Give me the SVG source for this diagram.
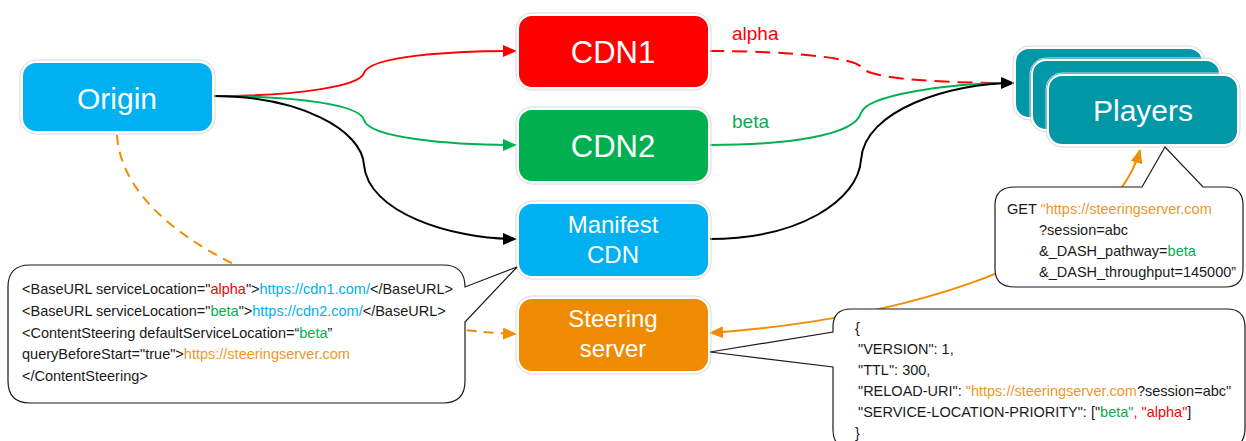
<svg xmlns="http://www.w3.org/2000/svg" width="1246" height="441" viewBox="0 0 1246 441">
<style>
.nodebox{stroke:#ffffff;stroke-width:2}
.halo{fill:none;stroke:#d8d8d8;stroke-width:1}
.nt{font-family:"Liberation Sans",Arial,sans-serif;fill:#ffffff;text-anchor:middle}
.ct{font-family:"Liberation Sans",Arial,sans-serif;font-size:14.5px;fill:#1a1a1a}
.callout{fill:#ffffff;stroke:#1a1a1a;stroke-width:1.2}
.lbl{font-family:"Liberation Sans",Arial,sans-serif;font-size:19px}
.conn{fill:none;stroke-width:2}
.r{fill:#ff0000}.g{fill:#00b050}.b{fill:#00b0f0}.o{fill:#f0962a}
</style>
<defs>
<marker id="arrK" markerUnits="userSpaceOnUse" markerWidth="14" markerHeight="12" refX="13" refY="6" orient="auto"><path d="M0,0 L14,6 L0,12 z" fill="#000000"/></marker>
<marker id="arrR" markerUnits="userSpaceOnUse" markerWidth="14" markerHeight="12" refX="13" refY="6" orient="auto"><path d="M0,0 L14,6 L0,12 z" fill="#ff0000"/></marker>
<marker id="arrG" markerUnits="userSpaceOnUse" markerWidth="14" markerHeight="12" refX="13" refY="6" orient="auto"><path d="M0,0 L14,6 L0,12 z" fill="#00b050"/></marker>
<marker id="arrO" markerUnits="userSpaceOnUse" markerWidth="14" markerHeight="12" refX="13" refY="6" orient="auto"><path d="M0,0 L14,6 L0,12 z" fill="#f08c00"/></marker>
<marker id="arrOs" markerUnits="userSpaceOnUse" markerWidth="14" markerHeight="12" refX="1" refY="6" orient="auto"><path d="M14,0 L0,6 L14,12 z" fill="#f08c00"/></marker>
</defs>

<g id="connectors">
<path class="conn" stroke="#f08c00" stroke-dasharray="10,7" d="M117,135 C125,260 380,330 516,334" marker-end="url(#arrO)"/>
<path class="conn" stroke="#f08c00" d="M710,333 C900,320 1110,260 1140,150" marker-start="url(#arrOs)" marker-end="url(#arrO)"/>
<path class="conn" stroke="#ff0000" d="M212,96 C300,96 360,86 364,73 C370,56 450,51 516,51" marker-end="url(#arrR)"/>
<path class="conn" stroke="#00b050" d="M212,96 C300,96 360,105 364,120 C369,138 450,145 516,145" marker-end="url(#arrG)"/>
<path class="conn" stroke="#000000" d="M212,96 C300,96 362,130 364,165 C368,212 450,239 516,239" marker-end="url(#arrK)"/>
<path class="conn" stroke="#ff0000" stroke-dasharray="15,8" d="M709,51 C790,51 855,58 861,67 C870,80 950,83 1012,83"/>
<path class="conn" stroke="#00b050" d="M709,145 C790,145 855,135 861,113 C866,95 950,83 1012,83"/>
<path class="conn" stroke="#000000" d="M709,239 C800,239 858,200 861,160 C864,110 950,83 1014,83" marker-end="url(#arrK)"/>
<text class="lbl r" x="732" y="40">alpha</text>
<text class="lbl g" x="732" y="128">beta</text>
</g>

<g id="origin">
<rect class="halo" x="20" y="60" width="195" height="74" rx="16"/>
<rect class="nodebox" x="22" y="62" width="191" height="70" rx="14" fill="#00b0f0"/>
<text class="nt" x="117" y="109" font-size="30">Origin</text>
</g>

<g id="cdn1">
<rect class="halo" x="516" y="13" width="195" height="77" rx="16"/>
<rect class="nodebox" x="518" y="15" width="191" height="73" rx="14" fill="#ff0000"/>
<text class="nt" x="613" y="63" font-size="31">CDN1</text>
</g>

<g id="cdn2">
<rect class="halo" x="516" y="107" width="195" height="77" rx="16"/>
<rect class="nodebox" x="518" y="109" width="191" height="73" rx="14" fill="#00b050"/>
<text class="nt" x="613" y="157" font-size="31">CDN2</text>
</g>

<g id="manifest-cdn">
<rect class="halo" x="516" y="201" width="195" height="78" rx="16"/>
<rect class="nodebox" x="518" y="203" width="191" height="74" rx="14" fill="#00b0f0"/>
<text class="nt" x="613" y="233" font-size="24">Manifest</text>
<text class="nt" x="613" y="263" font-size="24">CDN</text>
</g>

<g id="steering-server">
<rect class="halo" x="516" y="296" width="195" height="78" rx="16"/>
<rect class="nodebox" x="518" y="298" width="191" height="74" rx="14" fill="#ef8b00"/>
<text class="nt" x="613" y="327" font-size="24">Steering</text>
<text class="nt" x="613" y="357" font-size="24">server</text>
</g>

<g id="players">
<rect class="halo" x="1013" y="46" width="192" height="74" rx="16"/>
<rect class="nodebox" x="1015" y="48" width="188" height="70" rx="14" fill="#0097a7"/>
<rect class="halo" x="1030" y="58" width="192" height="74" rx="16"/>
<rect class="nodebox" x="1032" y="60" width="188" height="70" rx="14" fill="#0097a7"/>
<rect class="halo" x="1046" y="73" width="194" height="74" rx="16"/>
<rect class="nodebox" x="1048" y="75" width="190" height="70" rx="14" fill="#0097a7"/>
<text class="nt" x="1143" y="121" font-size="30">Players</text>
</g>

<g id="callout-mpd">
<path class="callout" d="M30,265 H443 Q465,265 465,287 L517,267 L465,322 V381 Q465,403 443,403 H30 Q8,403 8,381 V287 Q8,265 30,265 Z"/>
<text class="ct" x="22" y="294">&lt;BaseURL serviceLocation="<tspan class="r">alpha</tspan>"&gt;<tspan class="b">https://cdn1.com/</tspan>&lt;/BaseURL&gt;</text>
<text class="ct" x="22" y="316">&lt;BaseURL serviceLocation="<tspan class="g">beta</tspan>"&gt;<tspan class="b">https://cdn2.com/</tspan>&lt;/BaseURL&gt;</text>
<text class="ct" x="22" y="338">&lt;ContentSteering defaultServiceLocation=“<tspan class="g">beta</tspan>”</text>
<text class="ct" x="22" y="359">queryBeforeStart="true"&gt;<tspan class="o">https://steeringserver.com</tspan></text>
<text class="ct" x="22" y="381">&lt;/ContentSteering&gt;</text>
</g>

<g id="callout-get">
<path class="callout" d="M1015,187 H1142 L1165,147 L1203,187 H1225 Q1243,187 1243,205 V269 Q1243,287 1225,287 H1015 Q995,287 995,269 V205 Q995,187 1015,187 Z"/>
<text class="ct" x="1007" y="214">GET <tspan class="o">"https://steeringserver.com</tspan></text>
<text class="ct" x="1039" y="235">?session=abc</text>
<text class="ct" x="1039" y="256">&amp;_DASH_pathway=<tspan class="g">beta</tspan></text>
<text class="ct" x="1039" y="277">&amp;_DASH_throughput=145000”</text>
</g>

<g id="callout-json">
<path class="callout" d="M851,309 H1227 Q1245,309 1245,327 V428 Q1245,448 1227,448 H851 Q833,448 833,430 V367 L710,352 L833,332 V327 Q833,309 851,309 Z"/>
<text class="ct" x="855" y="333">{</text>
<text class="ct" x="858" y="354">"VERSION": 1,</text>
<text class="ct" x="858" y="375">"TTL": 300,</text>
<text class="ct" x="858" y="396">"RELOAD-URI": <tspan class="o">"https://steeringserver.com</tspan>?session=abc"</text>
<text class="ct" x="858" y="417">"SERVICE-LOCATION-PRIORITY": ["<tspan class="g">beta"</tspan><tspan class="r">, "alpha"</tspan>]</text>
<text class="ct" x="855" y="438">}</text>
</g>
</svg>
